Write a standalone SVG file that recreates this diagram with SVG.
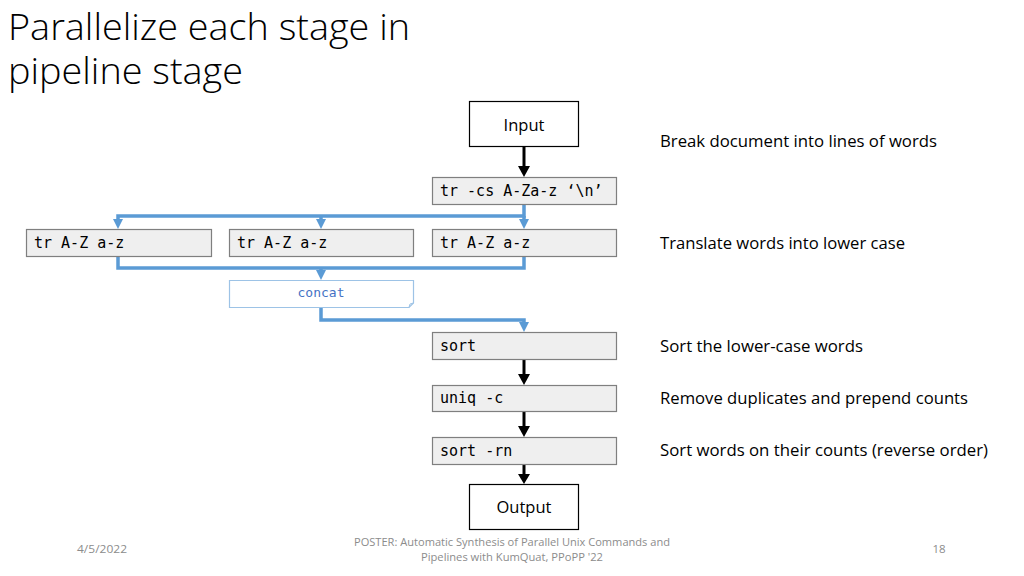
<svg xmlns="http://www.w3.org/2000/svg" width="1024" height="576" viewBox="0 0 1024 576">
<style>
.t{font-family:"Open Sans","Liberation Sans",Arial,sans-serif;fill:#000}
.m{font-family:"DejaVu Sans Mono","Liberation Mono",monospace;font-size:15px;fill:#000}
.g{fill:#efefef;stroke:#7f7f7f;stroke-width:1.2}
.w{fill:#fff;stroke:#000;stroke-width:1.2}
.lbl{font-family:"Open Sans","Liberation Sans",Arial,sans-serif;font-size:16.5px;fill:#000}
.ft{font-family:"Open Sans","Liberation Sans",Arial,sans-serif;font-size:11.5px;fill:#8c8c8c}
.bk{stroke:#000;stroke-width:3;fill:none}
.bl{stroke:#5b9bd5;stroke-width:3.5;fill:none}
.bh{fill:#5b9bd5}
.kh{fill:#000}
</style>
<rect width="1024" height="576" fill="#fff"/>
<g id="title">
<text class="t" x="8" y="40" font-size="36" font-weight="300" textLength="402" lengthAdjust="spacingAndGlyphs">Parallelize each stage in</text>
<text class="t" x="8" y="84" font-size="36" font-weight="300" textLength="235" lengthAdjust="spacingAndGlyphs">pipeline stage</text>
</g>
<g id="connectors">
<line class="bk" x1="524" y1="146" x2="524" y2="167"/><path class="kh" d="M518,166 L530,166 L524,177 Z"/>
<line class="bk" x1="524" y1="359" x2="524" y2="375"/><path class="kh" d="M518,374 L530,374 L524,385 Z"/>
<line class="bk" x1="524" y1="411" x2="524" y2="427"/><path class="kh" d="M518,426 L530,426 L524,437 Z"/>
<line class="bk" x1="524" y1="464" x2="524" y2="475"/><path class="kh" d="M518,474 L530,474 L524,484 Z"/>
<polyline class="bl" points="524,204 524,216 118,216 118,221"/>
<line class="bl" x1="321" y1="216" x2="321" y2="221"/>
<line class="bl" x1="524" y1="216" x2="524" y2="221"/>
<path class="bh" d="M113,219 L123,219 L118,229 Z"/>
<path class="bh" d="M316,219 L326,219 L321,229 Z"/>
<path class="bh" d="M519,219 L529,219 L524,229 Z"/>
<polyline class="bl" points="118,256 118,268 524,268 524,256"/>
<line class="bl" x1="321" y1="268" x2="321" y2="272"/>
<path class="bh" d="M316,270 L326,270 L321,280 Z"/>
<polyline class="bl" points="321,307 321,320 524,320 524,324"/>
<path class="bh" d="M519,322 L529,322 L524,332 Z"/>
</g>
<g id="input"><rect class="w" x="469.5" y="101.5" width="109" height="45"/><text class="t" x="524" y="131" font-size="16.5" text-anchor="middle">Input</text></g>
<g id="tr-cs"><rect class="g" x="432.5" y="177.5" width="184" height="27"/><text class="m" x="440" y="196">tr -cs A-Za-z ‘\n’</text></g>
<g id="tr1"><rect class="g" x="26.5" y="229.5" width="185" height="27"/><text class="m" x="34" y="248">tr A-Z a-z</text></g>
<g id="tr2"><rect class="g" x="229.5" y="229.5" width="184" height="27"/><text class="m" x="237" y="248">tr A-Z a-z</text></g>
<g id="tr3"><rect class="g" x="432.5" y="229.5" width="184" height="27"/><text class="m" x="440" y="248">tr A-Z a-z</text></g>
<g id="concat"><path d="M229.5,280.5 L413.5,280.5 L413.5,303 L409,307.5 L229.5,307.5 Z" fill="#fff" stroke="#9dc3e6" stroke-width="1.2"/><path d="M409,307.5 L410,304 L413.5,303" fill="none" stroke="#9dc3e6" stroke-width="1"/><text x="321" y="297" font-family="DejaVu Sans Mono,Liberation Mono,monospace" font-size="13" fill="#4472c4" text-anchor="middle">concat</text></g>
<g id="sort"><rect class="g" x="432.5" y="332.5" width="184" height="27"/><text class="m" x="440" y="351">sort</text></g>
<g id="uniq"><rect class="g" x="432.5" y="385.5" width="184" height="26"/><text class="m" x="440" y="403">uniq -c</text></g>
<g id="sortrn"><rect class="g" x="432.5" y="437.5" width="184" height="27"/><text class="m" x="440" y="456">sort -rn</text></g>
<g id="output"><rect class="w" x="469.5" y="484.5" width="109" height="45"/><text class="t" x="524" y="513" font-size="16.5" text-anchor="middle">Output</text></g>
<g id="labels">
<text class="lbl" x="660" y="147" textLength="277" lengthAdjust="spacingAndGlyphs">Break document into lines of words</text>
<text class="lbl" x="660" y="249" textLength="245" lengthAdjust="spacingAndGlyphs">Translate words into lower case</text>
<text class="lbl" x="660" y="352" textLength="203" lengthAdjust="spacingAndGlyphs">Sort the lower-case words</text>
<text class="lbl" x="660" y="404" textLength="308" lengthAdjust="spacingAndGlyphs">Remove duplicates and prepend counts</text>
<text class="lbl" x="660" y="456" textLength="328" lengthAdjust="spacingAndGlyphs">Sort words on their counts (reverse order)</text>
</g>
<g id="footer">
<text class="ft" x="77" y="553" textLength="50" lengthAdjust="spacingAndGlyphs">4/5/2022</text>
<text class="ft" x="512" y="546" text-anchor="middle" textLength="316" lengthAdjust="spacingAndGlyphs">POSTER: Automatic Synthesis of Parallel Unix Commands and</text>
<text class="ft" x="512" y="561" text-anchor="middle" textLength="182" lengthAdjust="spacingAndGlyphs">Pipelines with KumQuat, PPoPP '22</text>
<text class="ft" x="939" y="553" text-anchor="middle">18</text>
</g>
</svg>
